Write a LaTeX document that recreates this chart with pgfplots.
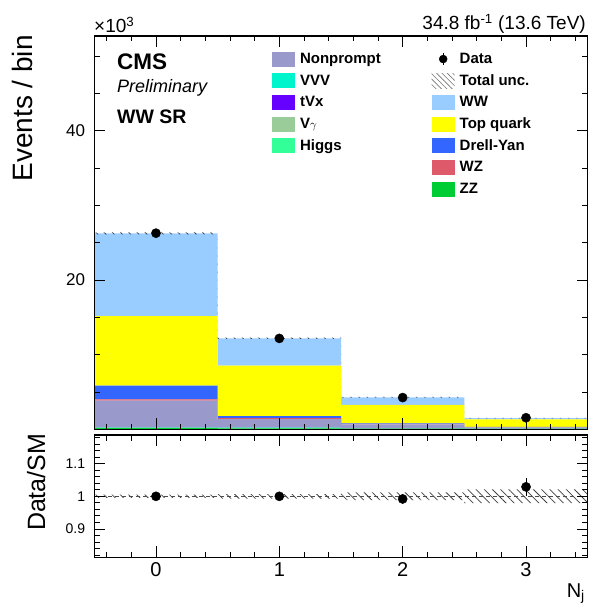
\documentclass[border=0pt]{standalone}
\usepackage{fontspec}
\setmainfont{Liberation Sans}
\usepackage{pgfplots}
\pgfplotsset{compat=1.18}
\usetikzlibrary{patterns.meta}

\definecolor{cNP}{HTML}{9999CC}
\definecolor{cVVV}{HTML}{00F5CC}
\definecolor{ctVx}{HTML}{6600FF}
\definecolor{cVg}{HTML}{99CC99}
\definecolor{cH}{HTML}{33FF99}
\definecolor{cWW}{HTML}{99CCFF}
\definecolor{cTop}{HTML}{FFFF00}
\definecolor{cDY}{HTML}{3366FF}
\definecolor{cWZ}{HTML}{DE5A6A}
\definecolor{cZZ}{HTML}{00CC33}

\newcommand{\fs}[1]{\fontsize{#1}{#1}\selectfont}

\pgfplotsset{
  cmsaxis/.style={
    scale only axis, width=493.4pt, xmin=-0.5, xmax=3.5,
    axis line style={line width=1.5pt},
    tick align=inside, major tick length=11pt, minor tick length=5.5pt,
    every tick/.style={black, line width=0.9pt},
    /pgf/number format/assume math mode=true,
    axis on top,
  },
  hist/.style={fill=#1, draw=none, const plot mark left, forget plot},
  boxleg/.style={legend image code/.code={\fill[##1, draw=none] (0pt,-7.5pt) rectangle (23pt,7.5pt);}},
  legstyle/.style={
    legend cell align=left,
    legend style={draw=none, fill=none, inner sep=0pt, outer sep=0pt,
      column sep=5pt, row sep=0pt, anchor=north west,
      nodes={inner sep=0pt, minimum height=21.7pt, font=\bfseries\fs{15}}},
  },
  hatch/.style={pattern={Lines[angle=-45,distance=5.8pt,line width=0.75pt]}, pattern color=black!75, draw=none},
}

\begin{document}
\begin{tikzpicture}
\path[use as bounding box] (0pt,0pt) rectangle (588pt,-604pt);

% ---------- upper panel: stacked histograms ----------
\begin{axis}[cmsaxis, at={(94.3pt,-429.3pt)}, anchor=south west, height=393.3pt,
  ymin=0, ymax=52.7, stack plots=y,
  xtick={0,1,2,3}, xticklabels={}, minor xtick={-0.4,-0.2,...,3.4},
  ytick={20,40}, minor ytick={5,10,...,50},
  yticklabel style={font=\fs{17}, inner xsep=0pt, xshift=-9pt},
  legstyle, legend style={at={(rel axis cs:0.3602,0.969)}},
]
% bottom to top: ZZ, Higgs, Vgamma, VVV, tVx, Nonprompt, WZ, Drell-Yan, Top quark, WW
\addplot[hist=cZZ]  coordinates {(-0.5,0.15) (0.5,0.12) (1.5,0.08) (2.5,0.05) (3.5,0.05)} \closedcycle;
\addplot[hist=cH]   coordinates {(-0.5,0.04) (0.5,0.03) (1.5,0.02) (2.5,0.01) (3.5,0.01)} \closedcycle;
\addplot[hist=cVg]  coordinates {(-0.5,0.05) (0.5,0.04) (1.5,0.03) (2.5,0.02) (3.5,0.02)} \closedcycle;
\addplot[hist=cVVV] coordinates {(-0.5,0.02) (0.5,0.02) (1.5,0.01) (2.5,0.01) (3.5,0.01)} \closedcycle;
\addplot[hist=ctVx] coordinates {(-0.5,0.03) (0.5,0.03) (1.5,0.03) (2.5,0.02) (3.5,0.02)} \closedcycle;
\addplot[hist=cNP]  coordinates {(-0.5,3.54) (0.5,1.14) (1.5,0.50) (2.5,0.15) (3.5,0.15)} \closedcycle;
\addplot[hist=cWZ]  coordinates {(-0.5,0.19) (0.5,0.12) (1.5,0.07) (2.5,0.03) (3.5,0.03)} \closedcycle;
\addplot[hist=cDY]  coordinates {(-0.5,1.82) (0.5,0.28) (1.5,0.06) (2.5,0.02) (3.5,0.02)} \closedcycle;
\addplot[hist=cTop] coordinates {(-0.5,9.34) (0.5,6.74) (1.5,2.46) (2.5,1.03) (3.5,1.03)} \closedcycle;
\addplot[hist=cWW]  coordinates {(-0.5,11.07) (0.5,3.67) (1.5,1.03) (2.5,0.17) (3.5,0.17)} \closedcycle;
\addlegendimage{boxleg, fill=cNP}  \addlegendentry{Nonprompt}
\addlegendimage{boxleg, fill=cVVV} \addlegendentry{VVV}
\addlegendimage{boxleg, fill=ctVx} \addlegendentry{tVx}
\addlegendimage{boxleg, fill=cVg}  \addlegendentry{V\fs{12}$\gamma$}
\addlegendimage{boxleg, fill=cH}   \addlegendentry{Higgs}
\end{axis}

% ---------- upper panel overlay: uncertainty band, data, second legend column ----------
\begin{axis}[cmsaxis, at={(94.3pt,-429.3pt)}, anchor=south west, height=393.3pt,
  ymin=0, ymax=52.7, hide axis,
  legstyle, legend style={at={(rel axis cs:0.6838,0.969)}},
]
\addplot[hatch, forget plot] coordinates {(-0.5,26.38) (0.5,26.38) (0.5,12.275) (1.5,12.275) (1.5,4.34) (2.5,4.34) (2.5,1.543) (3.5,1.543)
  (3.5,1.477) (2.5,1.477) (2.5,4.24) (1.5,4.24) (1.5,12.105) (0.5,12.105) (0.5,26.12) (-0.5,26.12)};
\addplot[only marks, mark=*, mark size=4.6pt, black, forget plot,
  error bars/.cd, y dir=both, y explicit, error mark=none, error bar style={line width=1pt, black}]
  coordinates {(0,26.28) +- (0,0.16) (1,12.18) +- (0,0.11) (2,4.25) +- (0,0.065) (3,1.55) +- (0,0.039)};
\addlegendimage{legend image code/.code={\path[draw=none, fill=none] (0pt,-7.5pt) rectangle (23pt,7.5pt); \draw[black, line width=0.9pt] (11.5pt,-6pt) -- (11.5pt,6pt); \fill[black] (11.5pt,0pt) circle (4pt);}}
\addlegendentry{Data}
\addlegendimage{legend image code/.code={\fill[draw=none, pattern={Lines[angle=-45,distance=3.8pt,line width=0.6pt]}, pattern color=black!55] (0pt,-7.5pt) rectangle (23pt,7.5pt);}}
\addlegendentry{Total unc.}
\addlegendimage{boxleg, fill=cWW}  \addlegendentry{WW}
\addlegendimage{boxleg, fill=cTop} \addlegendentry{Top quark}
\addlegendimage{boxleg, fill=cDY}  \addlegendentry{Drell-Yan}
\addlegendimage{boxleg, fill=cWZ}  \addlegendentry{WZ}
\addlegendimage{boxleg, fill=cZZ}  \addlegendentry{ZZ}
\end{axis}

% ---------- ratio panel ----------
\begin{axis}[cmsaxis, at={(94.3pt,-557.3pt)}, anchor=south west, height=122.3pt,
  ymin=0.8135, ymax=1.1875,
  xtick={0,1,2,3}, minor xtick={-0.4,-0.2,...,3.4},
  ytick={0.9,1,1.1}, minor ytick={0.82,0.84,...,1.19},
  yticklabel style={font=\fs{14}, inner xsep=0pt, xshift=-9pt},
  xticklabel style={font=\fs{20}, inner ysep=0pt, yshift=-5.5pt},
]
\addplot[hatch] coordinates {(-0.5,1.005) (0.5,1.005) (0.5,1.007) (1.5,1.007) (1.5,1.012) (2.5,1.012) (2.5,1.021) (3.5,1.021)
  (3.5,0.979) (2.5,0.979) (2.5,0.988) (1.5,0.988) (1.5,0.993) (0.5,0.993) (0.5,0.995) (-0.5,0.995)};
\addplot[black!70, line width=0.6pt, dash pattern=on 4pt off 3pt] coordinates {(-0.5,1) (3.5,1)};
\addplot[only marks, mark=*, mark size=4.6pt, black,
  error bars/.cd, y dir=both, y explicit, error mark=none, error bar style={line width=1pt, black}]
  coordinates {(0,1.0) +- (0,0.006) (1,1.0) +- (0,0.009) (2,0.992) +- (0,0.015) (3,1.029) +- (0,0.027)};
\end{axis}

% ---------- texts ----------
\node[rotate=90, anchor=base east, inner sep=0pt, font=\fs{28}] at (32.3pt,-35pt) {Events / bin};
\node[rotate=90, anchor=base east, inner sep=0pt, font=\fs{25}] at (45pt,-433.5pt) {Data/SM};
\node[anchor=base west, inner sep=0pt, font=\fs{19}] at (94pt,-33pt) {×10\textsuperscript{3}};
\node[anchor=base east, inner sep=0pt, font=\fs{19}] at (586pt,-30pt) {34.8 fb\textsuperscript{-1} (13.6 TeV)};
\node[anchor=base west, inner sep=0pt, font=\bfseries\fs{22.5}] at (117pt,-69.3pt) {CMS};
\node[anchor=base west, inner sep=0pt, font=\itshape\fs{18}] at (117pt,-93pt) {Preliminary};
\node[anchor=base west, inner sep=0pt, font=\bfseries\fs{19.5}] at (117pt,-124pt) {WW SR};
\node[anchor=base east, inner sep=0pt, font=\fs{20}] at (585pt,-597pt) {N\textsubscript{j}};
\end{tikzpicture}
\end{document}
